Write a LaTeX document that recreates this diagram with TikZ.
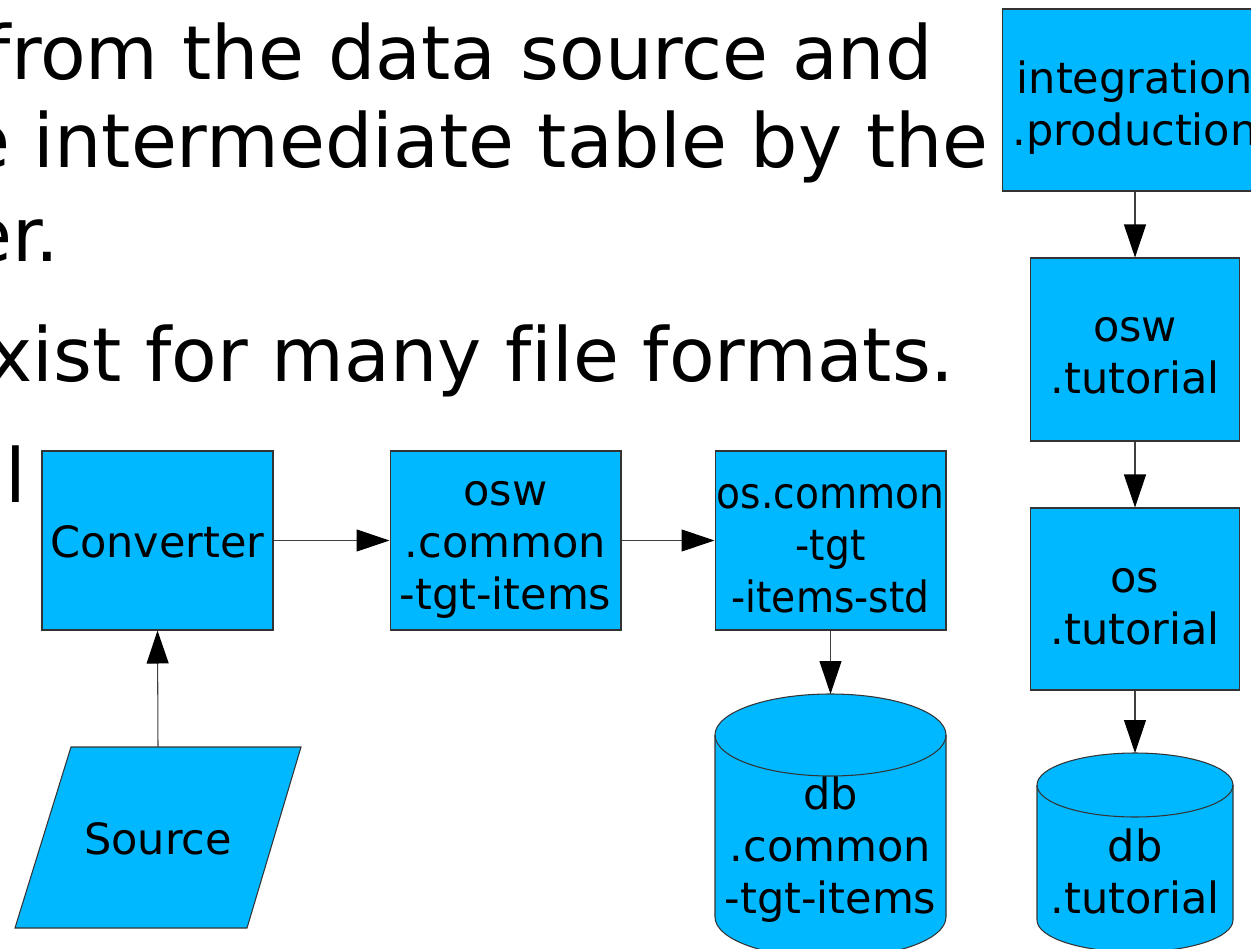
\documentclass[tikz,border=0pt]{standalone}
\usepackage{fontspec}
\setmainfont{DejaVu Sans}[Ligatures=NoCommon]
\usetikzlibrary{arrows.meta}
\definecolor{boxfill}{HTML}{00B8FF}
\definecolor{boxline}{HTML}{333333}
\begin{document}
\begin{tikzpicture}[x=0.02cm, y=-0.02cm,
  box/.style={draw=boxline, fill=boxfill, line width=0.6pt, inner sep=0pt, align=center, font=\fontsize{24.5}{29.5}\selectfont},
  shapeline/.style={draw=boxline, fill=boxfill, line width=0.6pt},
  arr/.style={draw=black!75, line width=0.6pt, -{Triangle[width=0.44cm,length=0.66cm,color=black]}},
  big/.style={inner sep=0pt, font=\fontsize{42.5}{51}\selectfont},
  lbl/.style={inner sep=0pt, align=center, font=\fontsize{24.5}{29.5}\selectfont}]
\clip (0,0) rectangle (1251,949);
\useasboundingbox (0,0) rectangle (1251,949);

% slide text
\node[big, anchor=base east] (t1) at (933,80) {from the data source and};
\node[big, anchor=base east] (t2) at (989,168) {e intermediate table by the};
\node[big, anchor=base east] (t3) at (60,262) {er.};
\node[big, anchor=base east] (t4) at (955,382) {xist for many file formats.};
\node[big, anchor=base] (t5) at (15.5,502) {l};

% boxes
\node[box, minimum width=4.62cm, minimum height=3.58cm] (conv) at (157.5,540.5) {};
\node[lbl] (convT) at (157.5,542) {Converter};
\node[box, minimum width=4.62cm, minimum height=3.58cm] (oswc) at (505.5,540.5) {};
\node[lbl] (oswcT) at (505.5,550) {osw\\.common\\-tgt-items};
\node[box, minimum width=4.62cm, minimum height=3.58cm] (osc) at (830.5,540.5) {};
\node[lbl] (oscT) at (830.5,550) {\scalebox{0.91}[1]{\begin{tabular}{@{}c@{}}os.common\\-tgt\\-items-std\end{tabular}}};
\node[box, minimum width=5.32cm, minimum height=3.64cm] (integ) at (1135,100) {};
\node[lbl] (integT) at (1135,107.5) {integration\\.production};
\node[box, minimum width=4.18cm, minimum height=3.66cm] (oswt) at (1135,349.5) {};
\node[lbl] (oswtT) at (1135,356) {osw\\.tutorial};
\node[box, minimum width=4.18cm, minimum height=3.64cm] (ost) at (1135,599) {};
\node[lbl] (ostT) at (1135,607) {os\\.tutorial};

% source parallelogram
\path[shapeline] (71,747) -- (301,747) -- (247,928) -- (15,928) -- cycle;
\coordinate (srctop) at (158,747);
\node[lbl, anchor=base] (srclbl) at (158,854) {Source};

% db.common cylinder
\path[shapeline] (715,735) -- (715,917) .. controls (715,939.6) and (766.7,958) .. (830.5,958) .. controls (894.3,958) and (946,939.6) .. (946,917) -- (946,735) .. controls (946,712.4) and (894.3,694) .. (830.5,694) .. controls (766.7,694) and (715,712.4) .. (715,735) -- cycle;
\draw[boxline, line width=0.6pt] (715,735) .. controls (715,757.6) and (766.7,776) .. (830.5,776) .. controls (894.3,776) and (946,757.6) .. (946,735);
\coordinate (dbc) at (830.5,694);
\node[lbl, anchor=base] (dbc1) at (830.5,809) {db};
\node[lbl, anchor=base] (dbc2) at (830.5,861) {.common};
\node[lbl, anchor=base] (dbc3) at (830.5,913) {-tgt-items};

% db.tutorial cylinder
\path[shapeline] (1037,785) -- (1037,920) .. controls (1037,937.7) and (1081,952) .. (1135,952) .. controls (1189,952) and (1233,937.7) .. (1233,920) -- (1233,785) .. controls (1233,767.3) and (1189,753) .. (1135,753) .. controls (1081,753) and (1037,767.3) .. (1037,785) -- cycle;
\draw[boxline, line width=0.6pt] (1037,785) .. controls (1037,802.7) and (1081,817) .. (1135,817) .. controls (1189,817) and (1233,802.7) .. (1233,785);
\coordinate (dbt) at (1135,753);
\node[lbl, anchor=base] (dbt1) at (1135,861) {db};
\node[lbl, anchor=base] (dbt2) at (1135,913) {.tutorial};

% connectors
\draw[arr] (srctop) -- (conv.south);
\draw[arr] (conv.east) -- (oswc.west);
\draw[arr] (oswc.east) -- (osc.west);
\draw[arr] (osc.south) -- (dbc);
\draw[arr] (integ.south) -- (oswt.north);
\draw[arr] (oswt.south) -- (ost.north);
\draw[arr] (ost.south) -- (dbt);
\end{tikzpicture}
\end{document}
